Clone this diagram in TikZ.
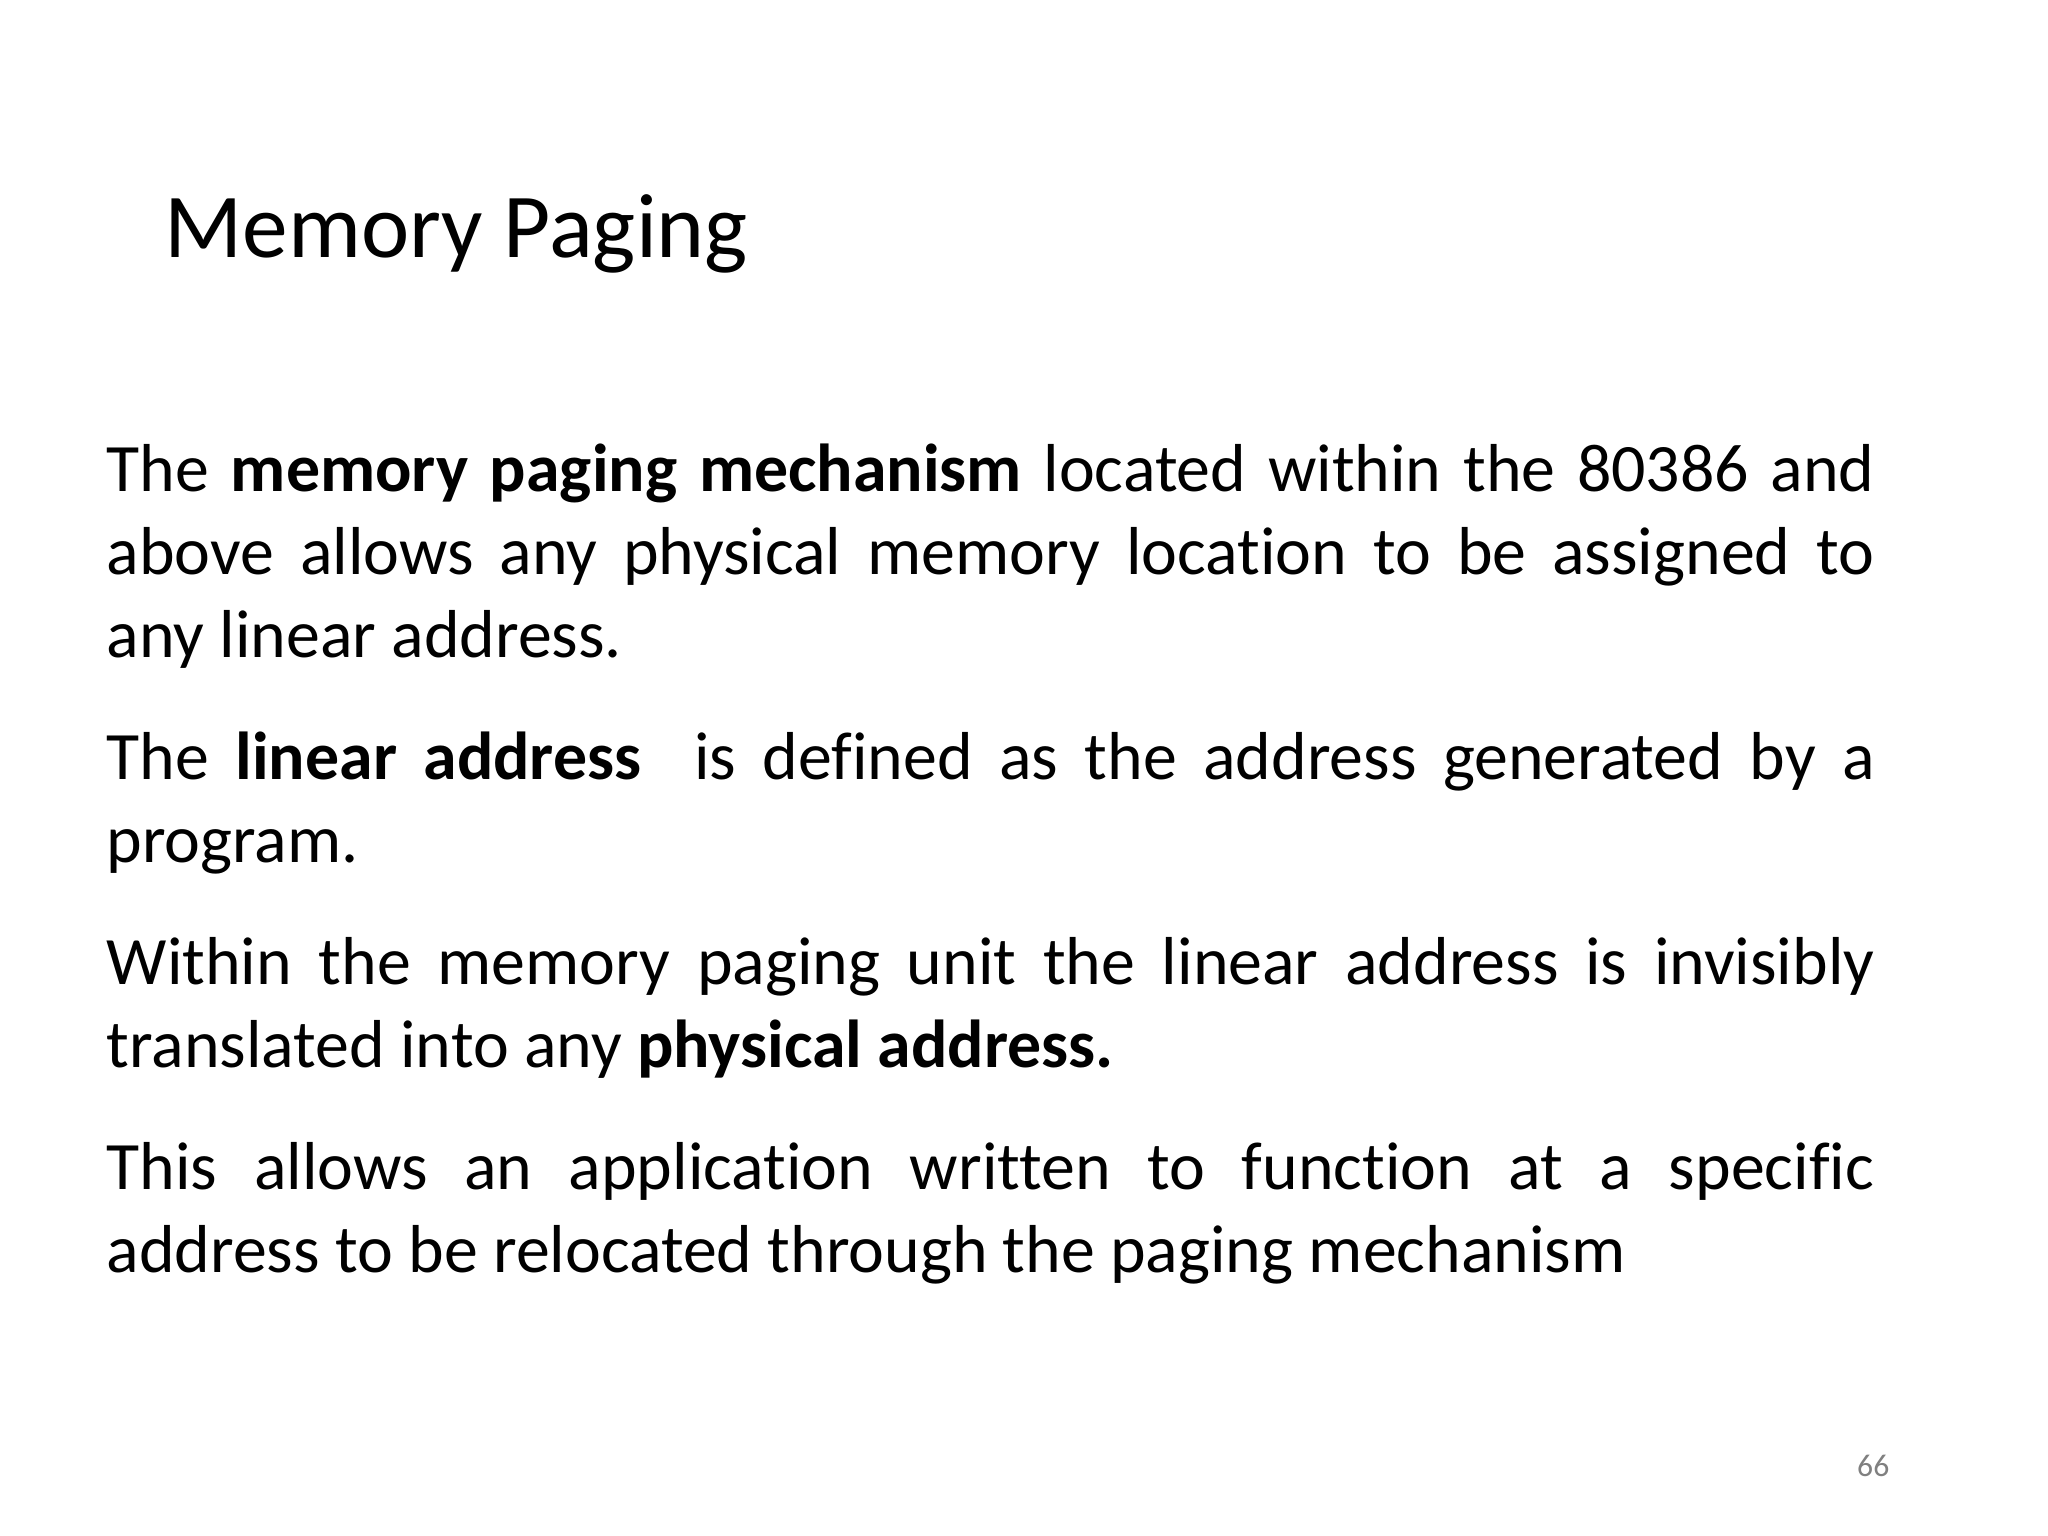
\documentclass[tikz,border=0pt]{standalone}
\usepackage{fontspec}
\setmainfont[Ligatures={NoCommon}]{Carlito}
\begin{document}
\begin{tikzpicture}[x=1cm,y=1cm,
  body/.style={anchor=north west,inner sep=0pt,text width=17.68cm,align=justify,font=\fontsize{19.3pt}{23.6pt}\selectfont}]
\useasboundingbox (0,0) rectangle (20.48,-15.36);
\node[anchor=base west,inner sep=0pt,font=\fontsize{26pt}{30pt}\selectfont] (title) at (1.64,-2.58) {Memory Paging};
\node[body] (p1) at (1.06,-4.43) {The \textbf{memory paging mechanism} located within the 80386 and\linebreak above allows any physical memory location to be assigned to\linebreak any linear address.};
\node[body,anchor=north west] (p2) at ([yshift=-17.7pt]p1.south west) {The \textbf{linear address}\ \ is defined as the address generated by a\linebreak program.};
\node[body,anchor=north west] (p3) at ([yshift=-17.7pt]p2.south west) {Within the memory paging unit the linear address is invisibly\linebreak translated into any \textbf{physical address.}};
\node[body,anchor=north west] (p4) at ([yshift=-17.7pt]p3.south west) {This allows an application written to function at a specific\linebreak address to be relocated through the paging mechanism};
\node[anchor=base east,inner sep=0pt,text=gray,font=\fontsize{9pt}{10pt}\selectfont] (num) at (18.9,-14.76) {66};
\end{tikzpicture}
\end{document}
